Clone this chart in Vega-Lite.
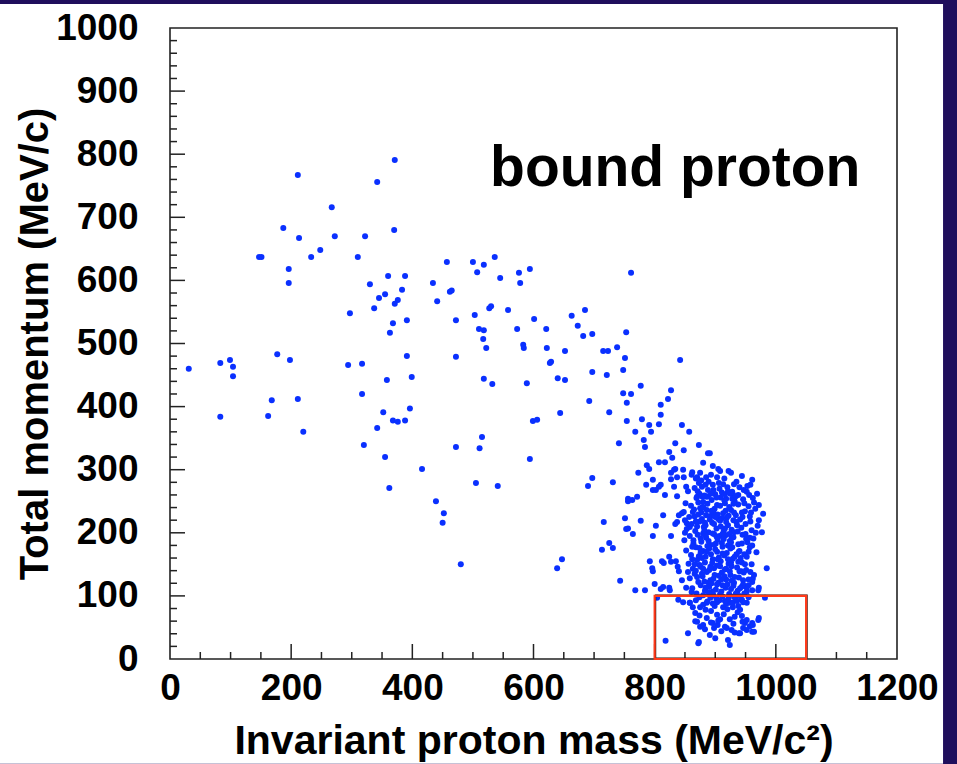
{
  "$schema": "https://vega.github.io/schema/vega-lite/v6.json",
  "width": 727,
  "height": 631,
  "autosize": {"type": "none"},
  "padding": {"left": 170, "top": 28, "right": 60, "bottom": 105},
  "background": "#1f0e5c",
  "config": {
    "view": {"stroke": null},
    "font": "Liberation Sans",
    "numberFormat": "d",
    "axis": {
      "ticks": false, "domain": false, "grid": false,
      "labelFont": "Liberation Sans", "labelFontWeight": "bold", "labelFontSize": 37, "labelColor": "#000000",
      "labelOverlap": false, "labelFlush": false,
      "titleFont": "Liberation Sans", "titleFontWeight": "bold", "titleFontSize": 40, "titleColor": "#000000",
      "zindex": 1
    },
    "axisX": {"tickCount": 6, "labelPadding": 11, "titlePadding": 15, "titleFontSize": 41},
    "axisY": {"tickCount": 10, "labelPadding": 32, "titlePadding": 0}
  },
  "datasets": {
    "xmajor": [{"v":200},{"v":400},{"v":600},{"v":800},{"v":1000}],
    "xminor": [{"v":50},{"v":100},{"v":150},{"v":250},{"v":300},{"v":350},{"v":450},{"v":500},{"v":550},{"v":650},{"v":700},{"v":750},{"v":850},{"v":900},{"v":950},{"v":1050},{"v":1100},{"v":1150}],
    "ymajor": [{"v":100},{"v":200},{"v":300},{"v":400},{"v":500},{"v":600},{"v":700},{"v":800},{"v":900}],
    "yminor": [{"v":20},{"v":40},{"v":60},{"v":80},{"v":120},{"v":140},{"v":160},{"v":180},{"v":220},{"v":240},{"v":260},{"v":280},{"v":320},{"v":340},{"v":360},{"v":380},{"v":420},{"v":440},{"v":460},{"v":480},{"v":520},{"v":540},{"v":560},{"v":580},{"v":620},{"v":640},{"v":660},{"v":680},{"v":720},{"v":740},{"v":760},{"v":780},{"v":820},{"v":840},{"v":860},{"v":880},{"v":920},{"v":940},{"v":960},{"v":980}],
    "pts": [
      {"m":31,"p":460},{"m":83,"p":469},{"m":99,"p":474},{"m":104,"p":463},{"m":104,"p":448},{"m":83,"p":384},{"m":168,"p":410},{"m":162,"p":385},{"m":211,"p":412},{"m":220,"p":360},{"m":198,"p":474},{"m":177,"p":483},
      {"m":371,"p":791},{"m":211,"p":767},{"m":342,"p":756},{"m":267,"p":716},{"m":187,"p":683},{"m":213,"p":667},{"m":272,"p":670},{"m":322,"p":670},{"m":370,"p":680},{"m":248,"p":648},{"m":233,"p":637},{"m":310,"p":637},{"m":147,"p":637},{"m":151,"p":637},{"m":196,"p":618},{"m":196,"p":596},{"m":360,"p":607},{"m":388,"p":607},{"m":330,"p":594},{"m":457,"p":629},{"m":434,"p":596},{"m":441,"p":567},{"m":462,"p":582},{"m":465,"p":584},{"m":472,"p":537},{"m":472,"p":479},{"m":355,"p":578},{"m":383,"p":585},{"m":345,"p":572},{"m":371,"p":563},{"m":376,"p":569},{"m":337,"p":556},{"m":297,"p":548},{"m":368,"p":532},{"m":363,"p":517},{"m":391,"p":537},{"m":391,"p":480},{"m":294,"p":466},{"m":317,"p":468},{"m":358,"p":442},{"m":399,"p":447},{"m":317,"p":420},{"m":352,"p":391},{"m":368,"p":378},{"m":376,"p":376},{"m":388,"p":378},{"m":396,"p":397},{"m":342,"p":366},{"m":320,"p":339},{"m":355,"p":320},{"m":362,"p":271},{"m":416,"p":301},{"m":439,"p":250},{"m":452,"p":231},{"m":450,"p":216},{"m":480,"p":150},{"m":472,"p":336},{"m":515,"p":352},{"m":511,"p":334},{"m":505,"p":279},{"m":541,"p":274},{"m":518,"p":444},{"m":532,"p":436},
      {"m":536,"p":637},{"m":500,"p":629},{"m":518,"p":625},{"m":507,"p":613},{"m":545,"p":604},{"m":576,"p":612},{"m":578,"p":596},{"m":594,"p":618},{"m":558,"p":553},{"m":527,"p":556},{"m":530,"p":559},{"m":503,"p":545},{"m":510,"p":523},{"m":518,"p":521},{"m":517,"p":507},{"m":522,"p":493},{"m":601,"p":539},{"m":573,"p":523},{"m":621,"p":523},{"m":663,"p":544},{"m":685,"p":553},{"m":673,"p":528},{"m":682,"p":512},{"m":697,"p":515},{"m":583,"p":498},{"m":584,"p":493},{"m":622,"p":493},{"m":652,"p":488},{"m":629,"p":471},{"m":589,"p":437},{"m":594,"p":317},{"m":599,"p":377},{"m":606,"p":379},{"m":627,"p":469},{"m":640,"p":445},{"m":652,"p":442},{"m":644,"p":390},{"m":690,"p":274},{"m":697,"p":287},{"m":731,"p":280},{"m":741,"p":342},{"m":692,"p":409},{"m":697,"p":455},{"m":721,"p":450},{"m":725,"p":391},{"m":748,"p":458},{"m":748,"p":421},{"m":754,"p":406},{"m":754,"p":377},{"m":716,"p":217},{"m":751,"p":223},{"m":753,"p":206},{"m":725,"p":184},{"m":731,"p":176},{"m":713,"p":173},{"m":647,"p":158},{"m":639,"p":144},{"m":743,"p":124},{"m":756,"p":250},{"m":753,"p":518},{"m":761,"p":612},{"m":715,"p":488},{"m":723,"p":488},{"m":738,"p":494},{"m":751,"p":477},{"m":761,"p":420},{"m":777,"p":433},{"m":827,"p":426},{"m":822,"p":412},{"m":810,"p":403},{"m":810,"p":387},{"m":807,"p":372},{"m":842,"p":474},{"m":779,"p":380},{"m":791,"p":371},{"m":794,"p":360},{"m":768,"p":360},{"m":782,"p":347},{"m":784,"p":336},{"m":845,"p":371},{"m":857,"p":360},{"m":834,"p":342},{"m":848,"p":331},{"m":824,"p":328},{"m":829,"p":319},{"m":807,"p":312},{"m":817,"p":312},{"m":787,"p":307},{"m":791,"p":301},{"m":834,"p":301},{"m":847,"p":300},{"m":773,"p":295},{"m":873,"p":339},{"m":888,"p":326},{"m":880,"p":311},{"m":875,"p":295},
      {"m":786,"p":276},{"m":797,"p":284},{"m":810,"p":276},{"m":827,"p":295},{"m":832,"p":300},{"m":837,"p":288},{"m":827,"p":285},{"m":848,"p":288},{"m":861,"p":292},{"m":870,"p":288},{"m":873,"p":279},{"m":878,"p":273},{"m":885,"p":288},{"m":852,"p":273},{"m":832,"p":273},{"m":797,"p":268},{"m":802,"p":268},{"m":807,"p":273},{"m":771,"p":257},{"m":817,"p":260},{"m":837,"p":258},{"m":870,"p":257},{"m":886,"p":257},{"m":756,"p":254},{"m":763,"p":252},{"m":777,"p":219},{"m":756,"p":207},{"m":764,"p":198},{"m":802,"p":211},{"m":814,"p":228},{"m":840,"p":228},{"m":845,"p":231},{"m":834,"p":214},{"m":837,"p":217},{"m":827,"p":195},{"m":797,"p":195},{"m":853,"p":215},{"m":858,"p":209},{"m":792,"p":155},{"m":796,"p":144},{"m":797,"p":139},{"m":812,"p":155},{"m":815,"p":152},{"m":824,"p":162},{"m":827,"p":154},{"m":835,"p":155},{"m":838,"p":146},{"m":840,"p":139},{"m":768,"p":109},{"m":784,"p":109},{"m":800,"p":119},{"m":810,"p":111},{"m":814,"p":114},{"m":824,"p":113},{"m":804,"p":97},{"m":818,"p":29},{"m":855,"p":41},{"m":872,"p":25},{"m":867,"p":60},{"m":875,"p":51},{"m":858,"p":89},{"m":863,"p":82},{"m":845,"p":125},{"m":855,"p":138},{"m":852,"p":113},{"m":861,"p":106},{"m":825,"p":109},
      {"m":979,"p":230},{"m":972,"p":220},{"m":967,"p":200},{"m":977,"p":201},{"m":957,"p":192},{"m":985,"p":144},{"m":972,"p":113},{"m":961,"p":122},{"m":962,"p":127},{"m":946,"p":125},{"m":952,"p":113},{"m":982,"p":97},{"m":972,"p":65},{"m":962,"p":54},{"m":961,"p":43},{"m":949,"p":57},{"m":946,"p":49},{"m":941,"p":41},{"m":921,"p":30},{"m":924,"p":22},{"m":916,"p":51},{"m":932,"p":67},{"m":903,"p":70},{"m":908,"p":63},{"m":896,"p":57},{"m":924,"p":89},{"m":929,"p":82},{"m":944,"p":94},{"m":952,"p":89},{"m":891,"p":38},{"m":898,"p":49},{"m":904,"p":54},{"m":919,"p":49},{"m":927,"p":46},{"m":939,"p":41},{"m":952,"p":46},{"m":964,"p":43},{"m":971,"p":62},{"m":952,"p":62},{"m":961,"p":57},{"m":870,"p":59},{"m":880,"p":54},{"m":886,"p":65},{"m":867,"p":73},{"m":839,"p":94},{"m":847,"p":90},{"m":858,"p":89},{"m":875,"p":82},{"m":886,"p":89},{"m":903,"p":90},{"m":913,"p":82},{"m":929,"p":89},{"m":941,"p":78},{"m":946,"p":90},{"m":961,"p":109},{"m":971,"p":109},{"m":873,"p":27},
      {"m":896,"p":306},{"m":905,"p":301},{"m":908,"p":298},{"m":903,"p":288},{"m":926,"p":295},{"m":961,"p":284},{"m":896,"p":276},{"m":913,"p":277},{"m":928,"p":265},{"m":929,"p":261},{"m":938,"p":260},{"m":952,"p":265},{"m":956,"p":260},{"m":900,"p":261},{"m":918,"p":254},{"m":962,"p":255},{"m":891,"p":326},
      {"m":862,"p":296},{"m":877,"p":283},{"m":893,"p":292},{"m":915,"p":286},{"m":922,"p":298},{"m":935,"p":281},{"m":944,"p":290},{"m":958,"p":276},{"m":889,"p":281},{"m":868,"p":286},{"m":940,"p":272},
      {"m":855,"p":266},{"m":866,"p":271},{"m":874,"p":262},{"m":884,"p":276},{"m":897,"p":268},{"m":906,"p":279},{"m":911,"p":264},{"m":920,"p":272},{"m":931,"p":277},{"m":947,"p":268},{"m":953,"p":274},{"m":969,"p":262},{"m":888,"p":258},{"m":925,"p":262},{"m":880,"p":249},{"m":851,"p":247},{"m":860,"p":243},{"m":869,"p":255},{"m":879,"p":241},{"m":887,"p":246},{"m":894,"p":252},{"m":903,"p":244},{"m":909,"p":256},{"m":916,"p":247},{"m":923,"p":241},{"m":932,"p":250},{"m":938,"p":245},{"m":946,"p":253},{"m":955,"p":242},{"m":964,"p":248},{"m":972,"p":244},{"m":882,"p":259},{"m":928,"p":254},
      {"m":848,"p":233},{"m":857,"p":225},{"m":865,"p":237},{"m":872,"p":229},{"m":878,"p":222},{"m":886,"p":236},{"m":893,"p":227},{"m":899,"p":238},{"m":905,"p":222},{"m":913,"p":231},{"m":919,"p":224},{"m":926,"p":236},{"m":934,"p":228},{"m":941,"p":221},{"m":949,"p":234},{"m":957,"p":226},{"m":966,"p":238},{"m":875,"p":239},{"m":897,"p":232},{"m":911,"p":223},
      {"m":853,"p":206},{"m":861,"p":214},{"m":867,"p":203},{"m":874,"p":218},{"m":881,"p":209},{"m":889,"p":201},{"m":895,"p":216},{"m":902,"p":207},{"m":908,"p":219},{"m":914,"p":203},{"m":921,"p":212},{"m":927,"p":205},{"m":935,"p":217},{"m":943,"p":208},{"m":950,"p":214},{"m":960,"p":204},{"m":970,"p":211},{"m":884,"p":212},{"m":918,"p":217},{"m":931,"p":201},
      {"m":849,"p":188},{"m":858,"p":195},{"m":864,"p":183},{"m":871,"p":197},{"m":877,"p":186},{"m":885,"p":192},{"m":891,"p":181},{"m":898,"p":198},{"m":904,"p":189},{"m":911,"p":184},{"m":917,"p":196},{"m":924,"p":187},{"m":930,"p":193},{"m":938,"p":182},{"m":945,"p":197},{"m":953,"p":185},{"m":963,"p":191},{"m":880,"p":199},{"m":907,"p":195},{"m":921,"p":180},
      {"m":852,"p":172},{"m":860,"p":165},{"m":868,"p":177},{"m":873,"p":163},{"m":880,"p":171},{"m":887,"p":179},{"m":893,"p":166},{"m":900,"p":174},{"m":906,"p":161},{"m":912,"p":178},{"m":919,"p":168},{"m":925,"p":175},{"m":932,"p":162},{"m":940,"p":171},{"m":948,"p":166},{"m":957,"p":177},{"m":968,"p":169},{"m":884,"p":162},{"m":903,"p":170},{"m":915,"p":164},
      {"m":856,"p":151},{"m":863,"p":143},{"m":870,"p":157},{"m":876,"p":146},{"m":883,"p":153},{"m":890,"p":141},{"m":896,"p":158},{"m":903,"p":148},{"m":909,"p":155},{"m":916,"p":142},{"m":922,"p":151},{"m":929,"p":159},{"m":936,"p":145},{"m":944,"p":153},{"m":951,"p":141},{"m":960,"p":150},{"m":874,"p":149},{"m":898,"p":144},{"m":927,"p":147},
      {"m":858,"p":128},{"m":866,"p":135},{"m":872,"p":122},{"m":879,"p":131},{"m":886,"p":138},{"m":892,"p":125},{"m":899,"p":133},{"m":905,"p":121},{"m":911,"p":137},{"m":918,"p":126},{"m":925,"p":133},{"m":931,"p":121},{"m":939,"p":129},{"m":947,"p":137},{"m":955,"p":126},{"m":964,"p":133},{"m":889,"p":121},{"m":915,"p":131},
      {"m":862,"p":112},{"m":869,"p":104},{"m":876,"p":117},{"m":883,"p":108},{"m":890,"p":114},{"m":897,"p":101},{"m":903,"p":118},{"m":910,"p":107},{"m":917,"p":113},{"m":923,"p":103},{"m":930,"p":116},{"m":937,"p":108},{"m":944,"p":115},{"m":880,"p":101},{"m":901,"p":110},{"m":926,"p":111},
      {"m":868,"p":93},{"m":880,"p":86},{"m":892,"p":97},{"m":899,"p":84},{"m":907,"p":93},{"m":918,"p":87},{"m":933,"p":96},{"m":938,"p":84},{"m":955,"p":98},{"m":887,"p":91},{"m":912,"p":99},
      {"m":874,"p":69},{"m":893,"p":76},{"m":905,"p":61},{"m":914,"p":71},{"m":924,"p":63},{"m":937,"p":74},{"m":944,"p":68},{"m":884,"p":78},{"m":930,"p":56},{"m":883,"p":47},{"m":893,"p":58},{"m":910,"p":44},{"m":932,"p":42},{"m":945,"p":59},{"m":957,"p":52},{"m":900,"p":33},
      {"m":872,"p":248},{"m":885,"p":228},{"m":898,"p":214},{"m":912,"p":198},{"m":926,"p":185},{"m":939,"p":170},{"m":876,"p":191},{"m":890,"p":175},{"m":904,"p":158},{"m":918,"p":143},{"m":932,"p":130},{"m":946,"p":118},{"m":868,"p":140},{"m":882,"p":123},{"m":896,"p":107},{"m":910,"p":126},{"m":924,"p":139},{"m":938,"p":154},{"m":870,"p":210},{"m":884,"p":196},{"m":898,"p":181},{"m":912,"p":167},{"m":926,"p":153},{"m":940,"p":139},{"m":878,"p":160},{"m":892,"p":146},{"m":906,"p":132},{"m":920,"p":118},{"m":934,"p":104},{"m":866,"p":226},{"m":880,"p":240},{"m":894,"p":235},{"m":908,"p":243},{"m":922,"p":227},{"m":936,"p":212},{"m":950,"p":198},{"m":888,"p":268},{"m":902,"p":256},{"m":916,"p":261},{"m":930,"p":246},{"m":944,"p":232},{"m":958,"p":218},{"m":864,"p":188},{"m":874,"p":176},{"m":902,"p":194},{"m":916,"p":207},{"m":930,"p":220},{"m":944,"p":183},{"m":952,"p":162},{"m":958,"p":138},{"m":948,"p":104},{"m":936,"p":92},{"m":922,"p":96},{"m":908,"p":103},{"m":894,"p":120},{"m":878,"p":135},{"m":862,"p":158},{"m":850,"p":200},{"m":850,"p":220},
      {"m":871,"p":266},{"m":879,"p":257},{"m":893,"p":262},{"m":907,"p":270},{"m":921,"p":266},{"m":934,"p":258},{"m":948,"p":247},{"m":863,"p":233},{"m":877,"p":232},{"m":891,"p":221},{"m":904,"p":229},{"m":917,"p":235},{"m":931,"p":232},{"m":945,"p":225},{"m":959,"p":232},{"m":868,"p":218},{"m":882,"p":204},{"m":896,"p":199},{"m":909,"p":210},{"m":923,"p":198},{"m":937,"p":202},{"m":951,"p":190},{"m":961,"p":180},{"m":862,"p":178},{"m":876,"p":169},{"m":889,"p":187},{"m":901,"p":183},{"m":914,"p":190},{"m":928,"p":177},{"m":942,"p":160},{"m":955,"p":170},{"m":866,"p":150},{"m":880,"p":143},{"m":895,"p":152},{"m":908,"p":147},{"m":921,"p":158},{"m":935,"p":166},{"m":949,"p":150},{"m":870,"p":130},{"m":884,"p":113},{"m":897,"p":127},{"m":912,"p":117},{"m":927,"p":124},{"m":941,"p":112},{"m":955,"p":117},{"m":874,"p":98},{"m":889,"p":105},{"m":902,"p":96},{"m":916,"p":92},{"m":931,"p":99},{"m":952,"p":107},{"m":896,"p":88},{"m":920,"p":79},{"m":940,"p":100},{"m":883,"p":216},{"m":915,"p":251},{"m":900,"p":225},{"m":927,"p":192},{"m":943,"p":139},{"m":886,"p":170}
    ]
  },
  "layer": [
    {
      "data": {"values": [{}]},
      "mark": {"type": "rect", "fill": "#ffffff", "clip": false},
      "encoding": {
        "x": {"datum": -281, "type": "quantitative", "scale": {"domain": [0, 1200], "nice": false}},
        "x2": {"datum": 1276},
        "y": {"datum": -166, "type": "quantitative", "scale": {"domain": [0, 1000], "nice": false}},
        "y2": {"datum": 1038}
      }
    },
    {
      "data": {"name": "pts"},
      "mark": {"type": "circle", "size": 36, "color": "#0a30ff", "opacity": 1},
      "encoding": {
        "x": {
          "field": "m", "type": "quantitative",
          "scale": {"domain": [0, 1200], "nice": false},
          "axis": {"title": "Invariant proton mass (MeV/c²)", "zindex": 1, "tickCount": 6, "ticks": false, "domain": false, "grid": false, "labelOverlap": false, "labelFlush": false, "format": "d", "labelPadding": 11, "titlePadding": 15, "titleFontSize": 41}
        },
        "y": {
          "field": "p", "type": "quantitative",
          "scale": {"domain": [0, 1000], "nice": false},
          "axis": {"title": "Total momentum (MeV/c)", "zindex": 1, "tickCount": 10, "ticks": false, "domain": false, "grid": false, "labelOverlap": false, "labelFlush": false, "format": "d", "labelPadding": 32, "titlePadding": 0}
        }
      }
    },
    {
      "data": {"name": "xmajor"},
      "mark": {"type": "rule", "color": "#222222", "strokeWidth": 1.5},
      "encoding": {
        "x": {"field": "v", "type": "quantitative", "scale": {"domain": [0, 1200], "nice": false}},
        "y": {"datum": 0, "type": "quantitative", "scale": {"domain": [0, 1000], "nice": false}},
        "y2": {"datum": 23.8}
      }
    },
    {
      "data": {"name": "xminor"},
      "mark": {"type": "rule", "color": "#222222", "strokeWidth": 1.5},
      "encoding": {
        "x": {"field": "v", "type": "quantitative", "scale": {"domain": [0, 1200], "nice": false}},
        "y": {"datum": 0, "type": "quantitative", "scale": {"domain": [0, 1000], "nice": false}},
        "y2": {"datum": 11.1}
      }
    },
    {
      "data": {"name": "ymajor"},
      "mark": {"type": "rule", "color": "#222222", "strokeWidth": 1.5},
      "encoding": {
        "y": {"field": "v", "type": "quantitative", "scale": {"domain": [0, 1000], "nice": false}},
        "x": {"datum": 0, "type": "quantitative", "scale": {"domain": [0, 1200], "nice": false}},
        "x2": {"datum": 24.8}
      }
    },
    {
      "data": {"name": "yminor"},
      "mark": {"type": "rule", "color": "#222222", "strokeWidth": 1.5},
      "encoding": {
        "y": {"field": "v", "type": "quantitative", "scale": {"domain": [0, 1000], "nice": false}},
        "x": {"datum": 0, "type": "quantitative", "scale": {"domain": [0, 1200], "nice": false}},
        "x2": {"datum": 11.6}
      }
    },
    {
      "data": {"values": [{}]},
      "mark": {"type": "rect", "fill": null, "fillOpacity": 0, "stroke": "#222222", "strokeWidth": 1.6, "clip": false},
      "encoding": {
        "x": {"datum": 0, "type": "quantitative", "scale": {"domain": [0, 1200], "nice": false}},
        "x2": {"datum": 1200},
        "y": {"datum": 0, "type": "quantitative", "scale": {"domain": [0, 1000], "nice": false}},
        "y2": {"datum": 1000}
      }
    },
    {
      "data": {"values": [{"x1": 801.5, "x2": 1051.5, "y1": 1.5, "y2": 101.2}]},
      "mark": {"type": "rect", "fill": null, "fillOpacity": 0, "stroke": "#111111", "strokeWidth": 1.3, "clip": false},
      "encoding": {
        "x": {"field": "x1", "type": "quantitative", "scale": {"domain": [0, 1200], "nice": false}},
        "x2": {"field": "x2"},
        "y": {"field": "y1", "type": "quantitative", "scale": {"domain": [0, 1000], "nice": false}},
        "y2": {"field": "y2"}
      }
    },
    {
      "data": {"values": [{"x1": 800, "x2": 1050, "y1": 0, "y2": 100}]},
      "mark": {"type": "rect", "fill": null, "fillOpacity": 0, "stroke": "#ff3a1a", "strokeWidth": 2.2, "clip": false},
      "encoding": {
        "x": {"field": "x1", "type": "quantitative", "scale": {"domain": [0, 1200], "nice": false}},
        "x2": {"field": "x2"},
        "y": {"field": "y1", "type": "quantitative", "scale": {"domain": [0, 1000], "nice": false}},
        "y2": {"field": "y2"}
      }
    },
    {
      "data": {"values": [{"x": 834, "y": 750, "label": "bound proton"}]},
      "mark": {"type": "text", "font": "Liberation Sans", "fontWeight": "bold", "fontSize": 57, "align": "center", "baseline": "alphabetic", "color": "#000000"},
      "encoding": {
        "x": {"field": "x", "type": "quantitative", "scale": {"domain": [0, 1200], "nice": false}},
        "y": {"field": "y", "type": "quantitative", "scale": {"domain": [0, 1000], "nice": false}},
        "text": {"field": "label"}
      }
    }
  ]
}
